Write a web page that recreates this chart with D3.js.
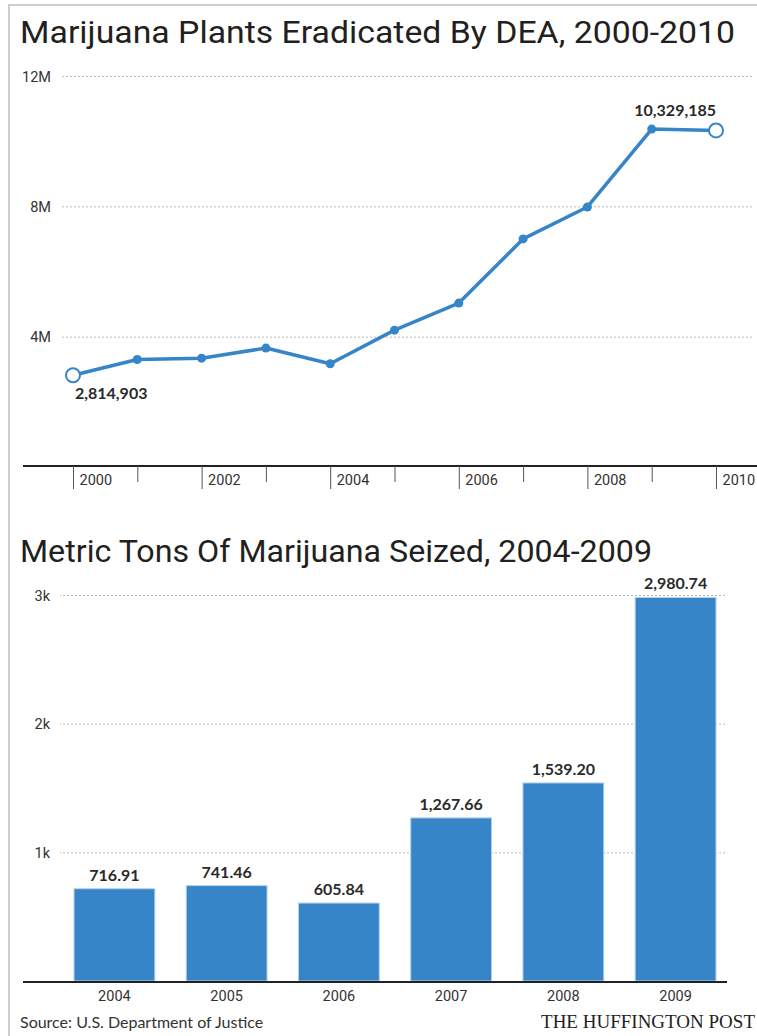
<!DOCTYPE html>
<html>
<head>
<meta charset="utf-8">
<script src="https://cdn.jsdelivr.net/npm/d3@7"></script>
<style>
  body { margin: 0; background: #fff; }
  svg { display: block; }
  .title { font-family: "Roboto", "Liberation Sans", sans-serif; font-weight: 400; font-size: 31px; fill: #231f20; }
  .tick text { font-family: "Roboto", "Liberation Sans", sans-serif; font-size: 14.5px; fill: #333; }
  .val { font-family: "Lato", "Roboto", sans-serif; font-weight: bold; font-size: 16px; fill: #2a2a2a; }
</style>
</head>
<body>
<script>
// data: marijuana plants eradicated (top chart)
var plantYears = [2000, 2001, 2002, 2003, 2004, 2005, 2006, 2007, 2008, 2009, 2010];
var plantValues = [2814903, 3300000, 3340000, 3650000, 3170000, 4200000, 5030000, 7000000, 7980000, 10370000, 10329185];
var plantTicks = [4e6, 8e6, 12e6];

// data: metric tons seized (bottom chart)
var seizedYears = ["2004", "2005", "2006", "2007", "2008", "2009"];
var seizedValues = [716.91, 741.46, 605.84, 1267.66, 1539.20, 2980.74];
var seizedTicks = [1000, 2000, 3000];

var blue = "#3585c8";
var width = 757, height = 1036;

var svg = d3.select("body").append("svg")
    .attr("width", width)
    .attr("height", height);

// frame lines on the left and top
svg.append("line").attr("x1", 9).attr("x2", 9).attr("y1", 4).attr("y2", height)
    .attr("stroke", "#ccc").attr("stroke-width", 2);
svg.append("line").attr("x1", 9).attr("x2", width).attr("y1", 5).attr("y2", 5)
    .attr("stroke", "#ccc").attr("stroke-width", 2);

// ---------- top chart ----------
svg.append("text").attr("class", "title")
    .attr("x", 20).attr("y", 43)
    .attr("textLength", 715).attr("lengthAdjust", "spacingAndGlyphs")
    .text("Marijuana Plants Eradicated By DEA, 2000-2010");

var x1 = d3.scaleLinear().domain([2000, 2010]).range([73, 716]);
var y1 = d3.scaleLinear().domain([0, 12e6]).range([467, 76]);

var yAxis1 = svg.append("g")
    .attr("transform", "translate(752,0)")
    .call(d3.axisLeft(y1).tickValues(plantTicks).tickSize(690).tickFormat(function(d) { return d / 1e6 + "M"; }));
yAxis1.select(".domain").remove();
yAxis1.selectAll(".tick line").attr("stroke", "#bbb").attr("stroke-dasharray", "2,2");
yAxis1.selectAll(".tick text").attr("x", -701).attr("dy", "0.35em");

svg.append("line").attr("x1", 23).attr("x2", width).attr("y1", 466).attr("y2", 466)
    .attr("stroke", "#222").attr("stroke-width", 2);

var xAxis1 = svg.append("g")
    .attr("transform", "translate(0,466)")
    .call(d3.axisBottom(x1).tickValues(plantYears).tickSize(23).tickFormat(function(d) { return d % 2 === 0 ? d : ""; }));
xAxis1.select(".domain").remove();
xAxis1.selectAll(".tick line")
    .attr("stroke", "#555")
    .attr("y2", function(d) { return d % 2 === 0 ? 23 : 16; });
xAxis1.selectAll(".tick text")
    .attr("text-anchor", "start").attr("x", 6).attr("y", 19).attr("dy", "0");

var line = d3.line()
    .x(function(d, i) { return x1(plantYears[i]); })
    .y(function(d) { return y1(d); });

svg.append("path").datum(plantValues)
    .attr("d", line)
    .attr("fill", "none").attr("stroke", blue)
    .attr("stroke-width", 3.5).attr("stroke-linejoin", "round");

var last = plantValues.length - 1;
svg.selectAll(".pt").data(plantValues).enter().append("circle")
    .attr("class", "pt")
    .attr("cx", function(d, i) { return x1(plantYears[i]); })
    .attr("cy", function(d) { return y1(d); })
    .attr("r", function(d, i) { return (i === 0 || i === last) ? 7 : 4.5; })
    .attr("fill", function(d, i) { return (i === 0 || i === last) ? "#fff" : blue; })
    .attr("stroke", blue)
    .attr("stroke-width", function(d, i) { return (i === 0 || i === last) ? 2 : 0; });

svg.append("text").attr("class", "val")
    .attr("x", x1(plantYears[0]) + 2).attr("y", y1(plantValues[0]) + 24)
    .text(d3.format(",")(plantValues[0]));
svg.append("text").attr("class", "val")
    .attr("x", x1(plantYears[last])).attr("y", y1(plantValues[last]) - 14)
    .attr("text-anchor", "end")
    .text(d3.format(",")(plantValues[last]));

// ---------- bottom chart ----------
svg.append("text").attr("class", "title")
    .attr("x", 20).attr("y", 562)
    .attr("textLength", 632).attr("lengthAdjust", "spacingAndGlyphs")
    .text("Metric Tons Of Marijuana Seized, 2004-2009");

var x2 = d3.scaleBand().domain(seizedYears).range([58.3, 731.7]).paddingInner(0.28).paddingOuter(0.14);
var y2 = d3.scaleLinear().domain([0, 3000]).range([981, 595]);

var yAxis2 = svg.append("g")
    .attr("transform", "translate(725,0)")
    .call(d3.axisLeft(y2).tickValues(seizedTicks).tickSize(665).tickFormat(function(d) { return d / 1000 + "k"; }));
yAxis2.select(".domain").remove();
yAxis2.selectAll(".tick line").attr("stroke", "#bbb").attr("stroke-dasharray", "2,2");
yAxis2.selectAll(".tick text").attr("x", -675).attr("dy", "0.35em");

svg.selectAll(".bar").data(seizedValues).enter().append("rect")
    .attr("class", "bar")
    .attr("x", function(d, i) { return x2(seizedYears[i]); })
    .attr("y", function(d) { return y2(d); })
    .attr("width", x2.bandwidth())
    .attr("height", function(d) { return y2(0) - y2(d); })
    .attr("fill", blue)
    .attr("stroke", "#b5d2ec").attr("stroke-width", 1);

svg.selectAll(".blabel").data(seizedValues).enter().append("text")
    .attr("class", "val")
    .attr("x", function(d, i) { return x2(seizedYears[i]) + x2.bandwidth() / 2; })
    .attr("y", function(d) { return y2(d) - 8; })
    .attr("text-anchor", "middle")
    .text(function(d) { return d3.format(",.2f")(d); });

svg.append("line").attr("x1", 23).attr("x2", 727).attr("y1", 982).attr("y2", 982)
    .attr("stroke", "#222").attr("stroke-width", 2);

var xAxis2 = svg.append("g")
    .attr("transform", "translate(0,982)")
    .call(d3.axisBottom(x2).tickSize(0));
xAxis2.select(".domain").remove();
xAxis2.selectAll(".tick text").attr("dy", "0").attr("y", 19);

// footer
svg.append("text")
    .attr("x", 20).attr("y", 1028)
    .attr("font-family", "Lato, 'Roboto', sans-serif").attr("font-size", 16).attr("fill", "#333")
    .text("Source: U.S. Department of Justice");
svg.append("text")
    .attr("x", 755).attr("y", 1028).attr("text-anchor", "end")
    .attr("font-family", "'Liberation Serif', serif").attr("font-size", 19).attr("fill", "#222")
    .text("THE HUFFINGTON POST");
</script>
</body>
</html>
